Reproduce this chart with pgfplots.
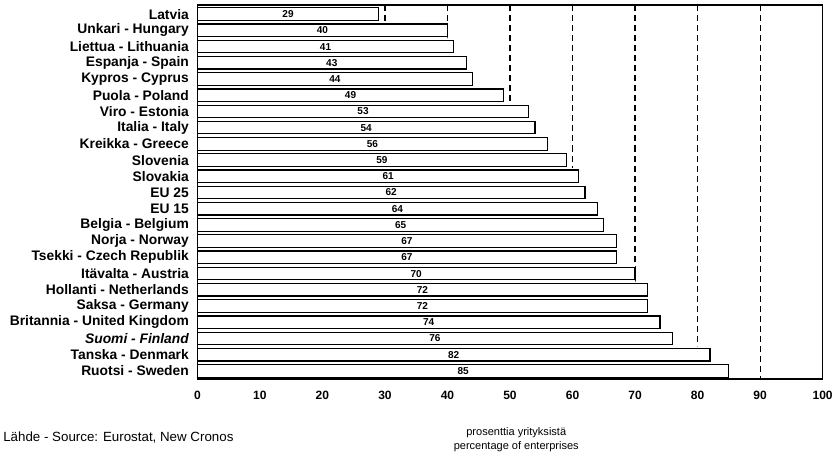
\documentclass[border=0pt]{standalone}
\usepackage{pgfplots}
\pgfplotsset{compat=1.18}
\usepackage{pgfplotstable}
\usepackage{fontspec}
\setmainfont{Liberation Sans}
\pgfplotstableread{
idx v
0 29
1 40
2 41
3 43
4 44
5 49
6 53
7 54
8 56
9 59
10 61
11 62
12 64
13 65
14 67
15 67
16 70
17 72
18 72
19 74
20 76
21 82
22 85
}\datatab
\begin{document}
\begin{tikzpicture}
\begin{axis}[
  scale only axis,
  width=624pt, height=373pt,
  xmin=0, xmax=100,
  ymin=-0.55, ymax=22.5,
  y dir=reverse,
  clip=false,
  axis line style={black, line width=1.5pt},
  xtick={0,10,...,100},
  ytick={0,...,22},
  yticklabels={Latvia, Unkari - Hungary, Liettua - Lithuania, Espanja - Spain, Kypros - Cyprus, Puola - Poland, Viro - Estonia, Italia - Italy, Kreikka - Greece, Slovenia, Slovakia, EU 25, EU 15, Belgia - Belgium, Norja - Norway, Tsekki - Czech Republik, Itävalta - Austria, Hollanti - Netherlands, Saksa - Germany, Britannia - United Kingdom, {\itshape Suomi - Finland}, Tanska - Denmark, Ruotsi - Sweden},
  major tick length=0pt,
  xmajorgrids,
  major grid style={black, line width=1.2pt, dash pattern=on 6pt off 4pt},
  tick label style={font=\fontsize{12}{14}\selectfont\bfseries},
  yticklabel style={font=\fontsize{13.8}{14}\selectfont\bfseries, xshift=-5pt},
  xticklabel style={yshift=-9pt},
  /pgf/number format/assume math mode=true,
  extra description/.code={\draw[black, line width=1.5pt] (rel axis cs:0,0) rectangle (rel axis cs:1,1);},
]
\addplot[xbar, bar width=16.3pt, bar shift=0pt, draw=none, fill=white] table[x=v, y=idx] {\datatab};
\addplot[xbar, bar width=12.5pt, bar shift=0pt, draw=black, fill=white, line width=1.2pt] table[x=v, y=idx] {\datatab};
\addplot[draw=none, mark=none, nodes near coords, point meta=explicit,
  every node near coord/.append style={anchor=center, font=\fontsize{10}{11}\selectfont\bfseries}]
  table[x expr=\thisrow{v}/2, y=idx, meta=v] {\datatab};
\node[anchor=west, font=\fontsize{13.3}{14}\selectfont] at (rel axis cs:-0.316,-0.158) {Lähde - Source: Eurostat, New Cronos};
\node[align=center, font=\fontsize{11}{14}\selectfont] at (rel axis cs:0.51,-0.163) {prosenttia yrityksistä\\percentage of enterprises};
\node[anchor=south, minimum height=5pt, inner sep=0pt] at (rel axis cs:0.5,1) {};
\end{axis}
\end{tikzpicture}
\end{document}
